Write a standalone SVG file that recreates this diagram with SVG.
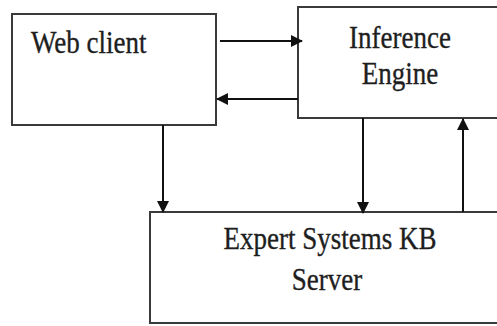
<svg xmlns="http://www.w3.org/2000/svg" width="497" height="326" viewBox="0 0 497 326">
  <style>
    .box { fill: #ffffff; stroke: #3a3a3a; stroke-width: 2; }
    .label { font-family: "Liberation Serif", "Times New Roman", serif; font-size: 27px; fill: #1e1e1e; stroke: #1e1e1e; stroke-width: 0.3; }
    .mid { text-anchor: middle; }
    .wire { fill: none; stroke: #111111; stroke-width: 2; }
  </style>
  <defs>
    <marker id="arrow" viewBox="0 0 12 12" refX="11" refY="6" markerWidth="12" markerHeight="12" markerUnits="userSpaceOnUse" orient="auto">
      <path d="M0,0 L12,6 L0,12 Z" fill="#111111"/>
    </marker>
  </defs>
  <rect width="497" height="326" fill="#ffffff"/>

  <g id="web-client">
    <rect class="box" x="12" y="14" width="204" height="111"/>
    <text class="label" transform="translate(31,53) scale(1,1.15)">Web client</text>
  </g>

  <g id="inference-engine">
    <rect class="box" x="298" y="7" width="210" height="111"/>
    <text class="label mid" transform="translate(400,48) scale(1,1.15)">Inference</text>
    <text class="label mid" transform="translate(400,84) scale(1,1.15)">Engine</text>
  </g>

  <g id="kb-server">
    <rect class="box" x="150" y="212" width="360" height="111"/>
    <text class="label mid" transform="translate(330,249) scale(1,1.15)">Expert Systems KB</text>
    <text class="label mid" transform="translate(327,290) scale(1,1.15)">Server</text>
  </g>

  <g id="connectors">
    <line class="wire" x1="220" y1="41" x2="302" y2="41" marker-end="url(#arrow)"/>
    <line class="wire" x1="298" y1="99" x2="217" y2="99" marker-end="url(#arrow)"/>
    <line class="wire" x1="163" y1="125" x2="163" y2="212" marker-end="url(#arrow)"/>
    <line class="wire" x1="363" y1="118" x2="363" y2="213" marker-end="url(#arrow)"/>
    <line class="wire" x1="463" y1="212" x2="463" y2="119" marker-end="url(#arrow)"/>
  </g>
</svg>
